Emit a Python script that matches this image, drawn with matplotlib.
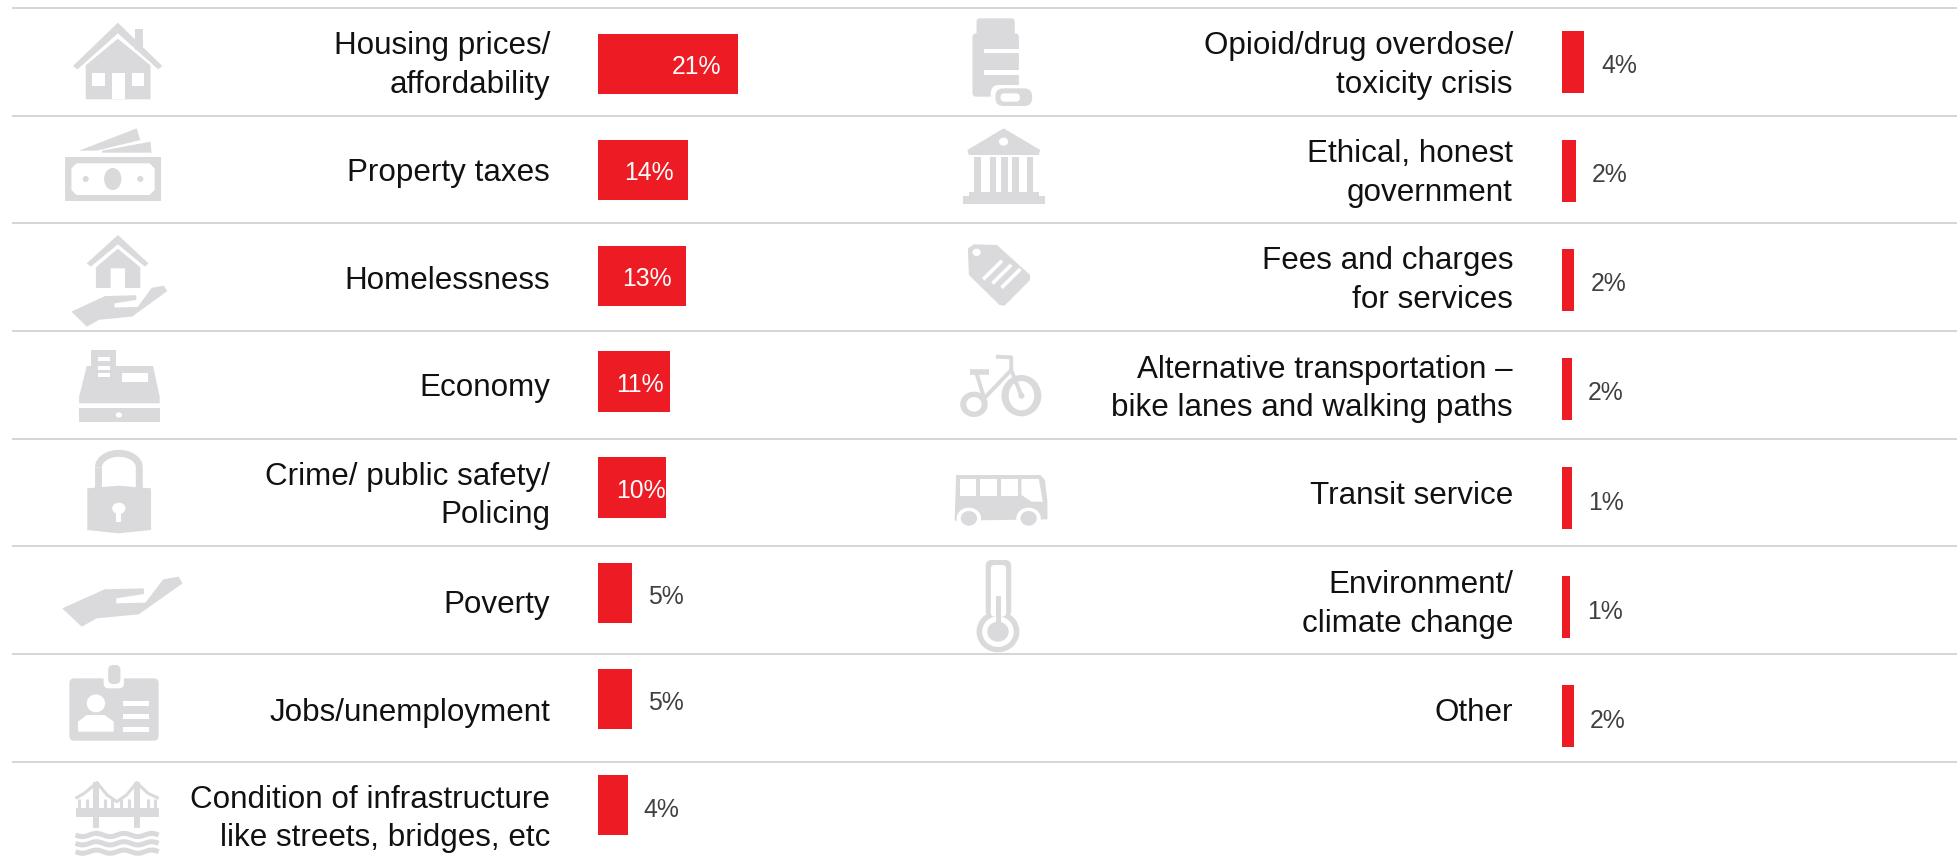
import matplotlib
matplotlib.use("Agg")
import matplotlib.pyplot as plt
from matplotlib.patches import Polygon, Ellipse, Rectangle, FancyBboxPatch
import numpy as np

# left column
left_labels = ["Housing prices/\naffordability", "Property taxes", "Homelessness", "Economy",
               "Crime/ public safety/\nPolicing", "Poverty", "Jobs/unemployment",
               "Condition of infrastructure\nlike streets, bridges, etc"]
left_values = [21, 13.5, 13.2, 10.8, 10.2, 5.1, 5.1, 4.5]
left_text = ["21%", "14%", "13%", "11%", "10%", "5%", "5%", "4%"]

# right column
right_labels = ["Opioid/drug overdose/\ntoxicity crisis", "Ethical, honest\ngovernment",
                "Fees and charges\nfor services",
                "Alternative transportation \u2013\nbike lanes and walking paths",
                "Transit service", "Environment/\nclimate change", "Other"]
right_values = [3.3, 2.1, 1.75, 1.45, 1.45, 1.15, 1.75]
right_text = ["4%", "2%", "2%", "2%", "1%", "1%", "2%"]

# layout, in pixels of the picture
W, H = 1957, 864
PX_PER_PCT = 6.66
left_base = [[54, 93], [181], [289], [396], [485, 523], [613], [721], [808, 846]]
right_base = [[54, 93], [162, 201], [269, 308], [378, 416], [504], [593, 632], [721]]
left_val_x = [672, 624, 622, 616, 616, 648, 648, 643]
left_val_y = [74, 180, 286, 392, 498, 604, 710, 817]
right_val_x = [1601, 1592, 1591, 1588, 1588, 1587, 1590]
right_val_y = [73, 182, 291, 400, 510, 619, 728]
rule_y = [8, 116, 223, 331, 439, 546, 654, 762]

RED = "#ED1C24"
GREY = "#DADADC"
RULE = "#D2D2D2"
FONT = "Liberation Sans"
TEXT_SIZE = 22.6
VAL_SIZE = 17.8

fig = plt.figure(figsize=(W / 100, H / 100), dpi=100, facecolor="white")

# full size axes in pixels for rules, icons and text
ax = fig.add_axes([0, 0, 1, 1], zorder=1)
ax.set_xlim(0, W)
ax.set_ylim(H, 0)
ax.axis("off")
ax.patch.set_alpha(0)


def bar_axes(x0, top, bottom, values, step_height):
    a = fig.add_axes([x0 / W, 1 - bottom / H, 400 / W, (bottom - top) / H], zorder=0)
    a.set_xlim(0, 400 / PX_PER_PCT)
    a.set_ylim(len(values) - 0.5, -0.5)
    a.barh(range(len(values)), values, height=step_height, color=RED)
    a.axis("off")
    return a


bar_axes(598, 11, 858, left_values, 0.57)
bar_axes(1562, 7.5, 770.5, right_values, 0.57)

for y in rule_y:
    ax.plot([12, W], [y, y], color=RULE, lw=1.3, solid_capstyle="butt")


def put_labels(labels, bases, right_x):
    for lab, ys in zip(labels, bases):
        for line, y in zip(lab.split("\n"), ys):
            ax.text(right_x, y, line, ha="right", va="baseline", fontsize=TEXT_SIZE,
                    family=FONT, color="#111111")


put_labels(left_labels, left_base, 550)
put_labels(right_labels, right_base, 1513)

for t, x, y, v in zip(left_text, left_val_x, left_val_y, left_values):
    ax.text(x, y, t, ha="left", va="baseline", fontsize=VAL_SIZE, family=FONT,
            color="white" if v > 10 else "#404040")
for t, x, y in zip(right_text, right_val_x, right_val_y):
    ax.text(x, y, t, ha="left", va="baseline", fontsize=VAL_SIZE, family=FONT, color="#404040")


# icons: coordinates (x * 1.96, y * 3)
class Icon:
    def __init__(self, ox, oy):
        self.ox = ox
        self.oy = oy

    def x(self, v):
        return self.ox + v / 1.96

    def y(self, v):
        return self.oy + v / 3

    def poly(self, pts, c=GREY, z=2):
        p = [(self.x(a), self.y(b)) for a, b in pts]
        ax.add_patch(Polygon(p, closed=True, fc=c, ec="none", zorder=z))

    def rect(self, x0, y0, x1, y1, c=GREY, z=2):
        ax.add_patch(Rectangle((self.x(x0), self.y(y0)), (x1 - x0) / 1.96, (y1 - y0) / 3,
                               fc=c, ec="none", zorder=z))

    def round(self, x0, y0, x1, y1, r=4, c=GREY, z=2):
        ax.add_patch(FancyBboxPatch((self.x(x0) + r, self.y(y0) + r),
                                    (x1 - x0) / 1.96 - 2 * r, (y1 - y0) / 3 - 2 * r,
                                    boxstyle="round,pad=%f" % r, fc=c, ec="none", zorder=z))

    def oval(self, cx, cy, rx, ry, c=GREY, z=2):
        ax.add_patch(Ellipse((self.x(cx), self.y(cy)), 2 * rx / 1.96, 2 * ry / 3,
                             fc=c, ec="none", zorder=z))

    def line(self, pts, w, c=GREY, z=2):
        ax.plot([self.x(a) for a, b in pts], [self.y(b) for a, b in pts], color=c, lw=w,
                zorder=z, solid_capstyle="butt")


WH = "white"
top = Icon(0, 0)
low = Icon(0, 430)
top_r = Icon(900, 0)
low_r = Icon(900, 430)

# house
top.rect(265, 88, 281, 150)
top.poly([(143, 198), (231, 68), (318, 198), (310, 208), (231, 100), (152, 208)])
top.poly([(231, 116), (295, 196), (295, 298), (168, 298), (168, 196)])
top.rect(180, 218, 205, 258, WH, 3)
top.rect(258, 218, 282, 258, WH, 3)
top.rect(220, 218, 245, 298, WH, 3)

# money
top.poly([(155, 452), (268, 385), (275, 420), (190, 452)])
top.poly([(200, 452), (295, 425), (297, 458), (200, 458)])
top.rect(127, 472, 316, 602)
top.poly([(150, 490), (293, 490), (303, 505), (303, 570), (293, 585), (150, 585), (140, 570), (140, 505)], WH, 3)
top.oval(221, 537, 17, 33, GREY, 4)
top.oval(168, 537, 6, 9, GREY, 4)
top.oval(275, 537, 6, 9, GREY, 4)

# house on a hand
top.poly([(170, 790), (231, 705), (291, 790), (284, 800), (231, 733), (178, 800)])
top.poly([(231, 746), (275, 802), (275, 864), (245, 864), (245, 805), (217, 805), (217, 864), (188, 864), (188, 802)])
hand = [(122, 535), (205, 478), (282, 475), (282, 492), (228, 505), (228, 520), (285, 518),
        (320, 448), (350, 440), (358, 460), (272, 553), (190, 565), (160, 590)]
top.poly([(140 + (a - 122) * 0.795, 857 + (b - 440) * 0.82) for a, b in hand])

# cash register
top.rect(178, 1050, 228, 1130)
top.poly([(170, 1098), (300, 1098), (313, 1190), (313, 1210), (155, 1210), (155, 1190)])
top.rect(240, 1118, 290, 1145, WH, 3)
for y0 in [1072, 1097, 1120]:
    top.rect(192, y0, 215, y0 + 12, WH, 3)
top.rect(155, 1225, 313, 1267)
top.oval(233, 1245, 6, 8, WH, 3)

# lock
low.poly([(171, 175), (232, 167), (296, 175), (296, 300), (232, 310), (171, 300)])
t = np.linspace(np.pi, 0, 40)
low.line([(233 + 40 * np.cos(a), 112 + 42 * np.sin(-a)) for a in t] + [(273, 175)], 5)
low.line([(193, 112), (193, 175)], 5)
low.oval(233, 235, 13, 17, WH, 3)
low.rect(228, 245, 238, 276, WH, 3)

# hand
low.poly(hand)

# id badge
low.round(136, 745, 311, 932, 5)
low.round(203, 705, 243, 775, 5, WH, 3)
low.round(212, 705, 236, 762, 5, GREY, 4)
low.oval(188, 820, 18, 27, WH, 3)
low.poly([(153, 905), (153, 875), (170, 855), (205, 855), (223, 875), (223, 905)], WH, 3)
for y0 in [813, 852, 892]:
    low.rect(242, y0, 293, y0 + 14, WH, 3)

# bridge
low.rect(148, 1135, 311, 1160)
low.rect(183, 1055, 195, 1195)
low.rect(263, 1055, 275, 1195)
low.line([(148, 1105), (165, 1090), (190, 1058), (210, 1095), (229, 1115), (248, 1095), (268, 1058), (290, 1090), (311, 1105)], 2.2)
for a in [155, 170, 205, 220, 238, 253, 290, 303]:
    low.line([(a, 1108), (a, 1135)], 2.2)
for y0 in [1215, 1240, 1265]:
    xs = np.linspace(148, 311, 30)
    low.line([(a, y0 + 5 * np.sin((a - 148) / 163 * 3 * 2 * np.pi)) for a in xs], 3.6)

# pill bottle
top_r.round(150, 55, 225, 115, 3)
top_r.round(142, 100, 233, 290, 4)
top_r.rect(165, 146, 233, 160, WH, 3)
top_r.rect(165, 210, 233, 225, WH, 3)
top_r.round(178, 255, 268, 328, 8, WH, 3)
top_r.round(187, 265, 259, 318, 8, GREY, 4)
top_r.round(197, 280, 235, 305, 4, WH, 5)

# bank
top_r.poly([(203, 385), (275, 450), (272, 465), (135, 465), (132, 450)])
top_r.oval(203, 425, 9, 12, WH, 3)
for a in [146, 176, 198, 220, 248]:
    top_r.rect(a, 472, a + 13, 575)
top_r.rect(135, 575, 272, 590)
top_r.rect(123, 588, 284, 611)

# price tag
top_r.poly([(133, 745), (145, 733), (190, 735), (255, 825), (255, 840), (205, 917), (195, 915), (135, 825)])
top_r.oval(150, 757, 8, 11, WH, 3)
for d in [0, 18, 36]:
    top_r.line([(163 + d, 838 + d * 0.7), (200 + d, 782 + d * 0.7)], 2.6, WH, 3)

# bike
top_r.oval(238, 1187, 39, 62)
top_r.oval(238, 1187, 25, 44, WH, 3)
top_r.oval(238, 1187, 6, 9, GREY, 4)
top_r.oval(145, 1213, 27, 38)
top_r.oval(145, 1213, 15, 22, WH, 3)
top_r.line([(188, 1070), (218, 1072), (218, 1110), (238, 1187)], 2.8, GREY, 4)
top_r.line([(150, 1120), (165, 1195), (218, 1110)], 2.8, GREY, 4)
top_r.line([(138, 1115), (175, 1115)], 4, GREY, 4)

# bus
low_r.poly([(110, 135), (275, 135), (284, 150), (289, 215), (289, 268), (107, 272)])
for a, b in [(117, 148), (157, 190), (198, 232)]:
    low_r.rect(a, 147, b, 197, WH, 3)
low_r.poly([(238, 147), (272, 147), (280, 215), (258, 215), (238, 195)], WH, 3)
for a in [135, 252]:
    low_r.oval(a, 265, 24, 32, WH, 3)
    low_r.oval(a, 265, 16, 22, GREY, 4)

# thermometer
low_r.round(168, 390, 218, 560, 6)
low_r.round(178, 405, 208, 560, 4, WH, 3)
low_r.oval(192, 605, 42, 62)
low_r.oval(192, 605, 31, 46, WH, 3)
low_r.oval(192, 605, 21, 30, GREY, 4)
low_r.rect(188, 497, 197, 590, GREY, 4)

fig.savefig("out.png", dpi=100, facecolor="white")
